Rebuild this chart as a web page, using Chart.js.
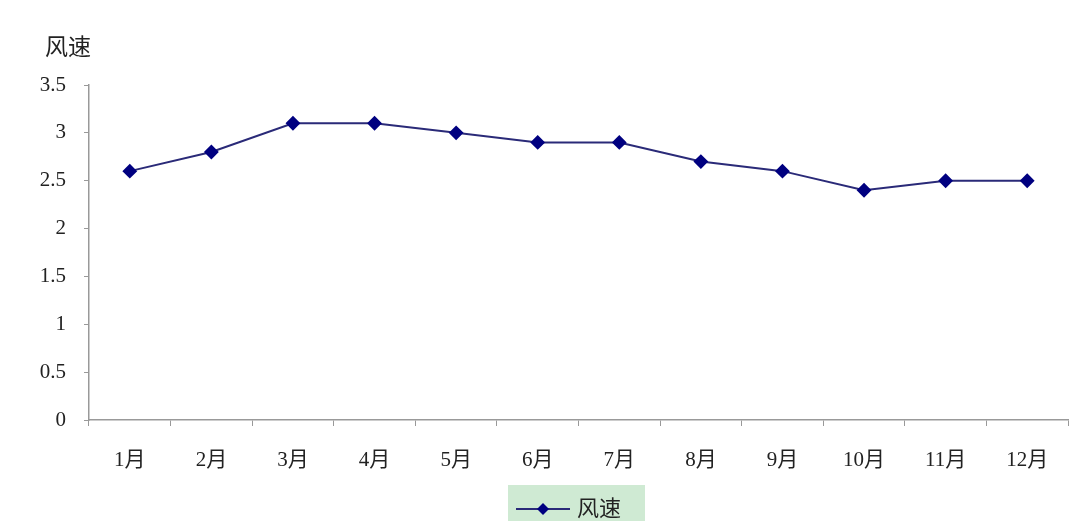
<!DOCTYPE html>
<html>
<head>
<meta charset="utf-8">
<script src="https://cdn.jsdelivr.net/npm/chart.js@4/dist/chart.umd.min.js"></script>
<style>
    html, body { margin: 0; padding: 0; background: #fff; }
    #wrap { width: 1076px; height: 521px; position: relative; }
</style>
</head>
<body>
<div id="wrap"><canvas id="chart"></canvas></div>
<script>
    const months = ['1月', '2月', '3月', '4月', '5月', '6月', '7月', '8月', '9月', '10月', '11月', '12月'];
    const windSpeed = [2.6, 2.8, 3.1, 3.1, 3.0, 2.9, 2.9, 2.7, 2.6, 2.4, 2.5, 2.5];
    const yTickLabels = ['0', '0.5', '1', '1.5', '2', '2.5', '3', '3.5'];
    const seriesName = '风速';
    const axisTitle = '风速';

    const serif = "'Liberation Serif', 'Noto Sans CJK SC', serif";
    const cjk = "'Noto Sans CJK SC', 'Liberation Serif', sans-serif";

    // y axis title and the green legend box under the plot
    const extras = {
        id: 'extras',
        afterDraw(chart) {
            const ctx = chart.ctx;
            ctx.save();
            ctx.fillStyle = '#222';
            ctx.font = '23px ' + cjk;
            ctx.textAlign = 'center';
            ctx.textBaseline = 'middle';
            ctx.fillText(axisTitle, 68, 46);

            ctx.fillStyle = '#cfead3';
            ctx.fillRect(508, 485, 137, 36);
            ctx.strokeStyle = '#2a2a78';
            ctx.lineWidth = 2;
            ctx.beginPath();
            ctx.moveTo(516, 509);
            ctx.lineTo(570, 509);
            ctx.stroke();
            ctx.fillStyle = '#000080';
            ctx.beginPath();
            ctx.moveTo(543, 503);
            ctx.lineTo(549, 509);
            ctx.lineTo(543, 515);
            ctx.lineTo(537, 509);
            ctx.closePath();
            ctx.fill();
            ctx.fillStyle = '#222';
            ctx.font = '22px ' + cjk;
            ctx.textAlign = 'left';
            ctx.fillText(seriesName, 577, 508);
            ctx.restore();
        }
    };

    const ctx = document.getElementById('chart').getContext('2d');
    const windChart = new Chart(ctx, {
        type: 'line',
        data: {
            labels: months,
            datasets: [{
                label: seriesName,
                data: windSpeed,
                borderColor: '#2a2a78',
                borderWidth: 2,
                pointStyle: 'rectRot',
                pointRadius: 6,
                pointBackgroundColor: '#000080',
                pointBorderColor: '#000080',
                tension: 0
            }]
        },
        options: {
            responsive: true,
            maintainAspectRatio: false,
            animation: false,
            layout: {
                padding: { top: 85, right: 7, bottom: 0, left: 0 }
            },
            plugins: {
                legend: { display: false },
                tooltip: { enabled: false }
            },
            scales: {
                x: {
                    offset: true,
                    grid: {
                        offset: true,
                        drawOnChartArea: false,
                        tickLength: 6,
                        color: '#999'
                    },
                    border: { color: '#999', width: 1.5 },
                    ticks: {
                        color: '#222',
                        padding: 22,
                        maxRotation: 0,
                        font: { family: serif, size: 21 }
                    },
                    afterFit(scale) { scale.height = 101; }
                },
                y: {
                    min: 0,
                    max: 3.5,
                    grid: {
                        drawOnChartArea: false,
                        tickLength: 5,
                        color: '#999'
                    },
                    border: { color: '#999', width: 1.5 },
                    ticks: {
                        stepSize: 0.5,
                        color: '#222',
                        padding: 18,
                        font: { family: serif, size: 21 },
                        callback: function(value, index) {
                            return yTickLabels[index];
                        }
                    },
                    afterFit(scale) { scale.width = 89; }
                }
            }
        },
        plugins: [extras]
    });
</script>
</body>
</html>
